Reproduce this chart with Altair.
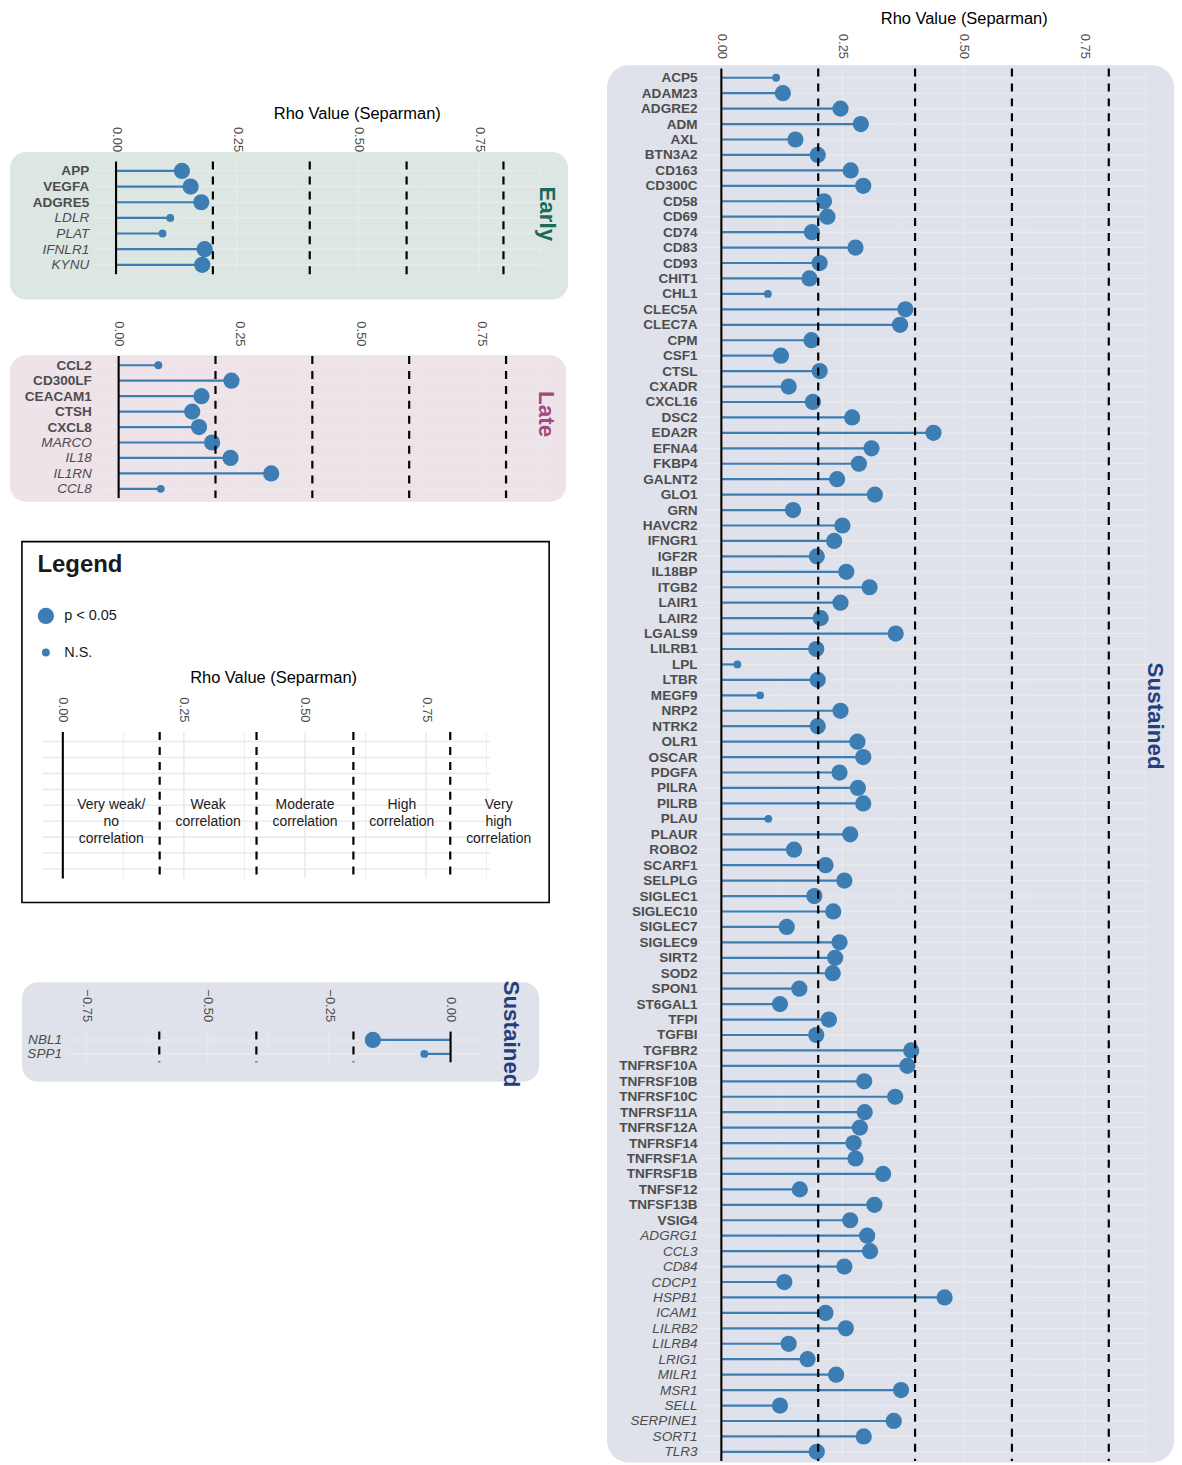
import json
import altair as alt
import pandas as pd

FONT = "Liberation Sans"
DOT = "#3c7db4"
LABEL_GREY = "#4d4d4d"
GRID = "#ebebeb"

# ---------------- data ----------------
early_genes = ["APP", "VEGFA", "ADGRE5", "LDLR", "PLAT", "IFNLR1", "KYNU"]
early_rho = [0.136, 0.154, 0.176, 0.112, 0.096, 0.183, 0.178]
early_sig = [1, 1, 1, 0, 0, 1, 1]
early_bold = [1, 1, 1, 0, 0, 0, 0]

late_genes = ["CCL2", "CD300LF", "CEACAM1", "CTSH", "CXCL8", "MARCO", "IL18", "IL1RN", "CCL8"]
late_rho = [0.082, 0.233, 0.171, 0.152, 0.166, 0.193, 0.231, 0.315, 0.087]
late_sig = [0, 1, 1, 1, 1, 1, 1, 1, 0]
late_bold = [1, 1, 1, 1, 1, 0, 0, 0, 0]

neg_genes = ["NBL1", "SPP1"]
neg_rho = [-0.160, -0.054]
neg_sig = [1, 0]
neg_bold = [0, 0]

main_genes = [
    "ACP5", "ADAM23", "ADGRE2", "ADM", "AXL", "BTN3A2", "CD163", "CD300C", "CD58", "CD69",
    "CD74", "CD83", "CD93", "CHIT1", "CHL1", "CLEC5A", "CLEC7A", "CPM", "CSF1", "CTSL",
    "CXADR", "CXCL16", "DSC2", "EDA2R", "EFNA4", "FKBP4", "GALNT2", "GLO1", "GRN", "HAVCR2",
    "IFNGR1", "IGF2R", "IL18BP", "ITGB2", "LAIR1", "LAIR2", "LGALS9", "LILRB1", "LPL", "LTBR",
    "MEGF9", "NRP2", "NTRK2", "OLR1", "OSCAR", "PDGFA", "PILRA", "PILRB", "PLAU", "PLAUR",
    "ROBO2", "SCARF1", "SELPLG", "SIGLEC1", "SIGLEC10", "SIGLEC7", "SIGLEC9", "SIRT2", "SOD2", "SPON1",
    "ST6GAL1", "TFPI", "TGFBI", "TGFBR2", "TNFRSF10A", "TNFRSF10B", "TNFRSF10C", "TNFRSF11A", "TNFRSF12A", "TNFRSF14",
    "TNFRSF1A", "TNFRSF1B", "TNFSF12", "TNFSF13B", "VSIG4", "ADGRG1", "CCL3", "CD84", "CDCP1", "HSPB1",
    "ICAM1", "LILRB2", "LILRB4", "LRIG1", "MILR1", "MSR1", "SELL", "SERPINE1", "SORT1", "TLR3",
]
main_rho = [
    0.113, 0.127, 0.246, 0.288, 0.153, 0.199, 0.267, 0.293, 0.212, 0.219,
    0.187, 0.277, 0.203, 0.182, 0.096, 0.380, 0.369, 0.186, 0.123, 0.203,
    0.139, 0.189, 0.270, 0.438, 0.310, 0.284, 0.239, 0.317, 0.148, 0.250,
    0.233, 0.197, 0.258, 0.306, 0.246, 0.205, 0.360, 0.196, 0.033, 0.199,
    0.080, 0.246, 0.199, 0.281, 0.293, 0.244, 0.282, 0.293, 0.097, 0.266,
    0.150, 0.215, 0.254, 0.192, 0.231, 0.135, 0.244, 0.235, 0.230, 0.161,
    0.121, 0.222, 0.196, 0.392, 0.384, 0.295, 0.359, 0.296, 0.286, 0.273,
    0.277, 0.334, 0.162, 0.316, 0.266, 0.301, 0.307, 0.254, 0.130, 0.461,
    0.215, 0.257, 0.139, 0.178, 0.237, 0.371, 0.121, 0.356, 0.294, 0.197,
]
main_ns = ["ACP5", "CHL1", "LPL", "MEGF9", "PLAU"]
main_sig = [0 if g in main_ns else 1 for g in main_genes]
main_bold = [1] * 75 + [0] * 15

pos_ticks = [0.0, 0.25, 0.5, 0.75]
pos_minor = [0.125, 0.375, 0.625, 0.875]
pos_thresholds = [0.2, 0.4, 0.6, 0.8]
neg_ticks = [-0.75, -0.5, -0.25, 0.0]
neg_minor = [-0.625, -0.375, -0.125]
neg_thresholds = [-0.2, -0.4, -0.6]

legend_rows = ["r1", "r2", "r3", "r4", "r5", "r6", "r7", "r8", "r9"]
region_pos = [0.1, 0.3, 0.5, 0.7, 0.9]
region_labels = ["Very weak/\nno\ncorrelation", "Weak\ncorrelation", "Moderate\ncorrelation",
                 "High\ncorrelation", "Very\nhigh\ncorrelation"]

SIG_DOMAIN = ["p < 0.05", "N.S."]
AXIS_TITLE = "Rho Value (Separman)"
POS_DOMAIN = [-0.042, 0.882]
NEG_DOMAIN = [-0.789, 0.069]

# ---------------- layout (pixels inside the single view) ----------------
# plot rectangles: (left, right, top, bottom)
EARLY_RECT = (88, 537, 150.6, 263.6)
LATE_RECT = (90.6, 539.6, 345.7, 488.3)
LEG_RECT = (34.6, 483.6, 723, 870)
NEG_RECT = (59.7, 477.7, 1023.6, 1054.4)
MAIN_RECT = (695.4, 1144.4, 57.2, 1454.6)

size_scale = alt.Scale(domain=SIG_DOMAIN, range=[265, 62])
size_legend = alt.Legend(
    orient="none", legendX=29.5, legendY=543, padding=0,
    title="Legend", titleFontSize=24, titleFontWeight="bold", titleColor="#1a1a1a",
    titleFont=FONT, titlePadding=31,
    labelFont=FONT, labelFontSize=14.5, labelColor="#1a1a1a", labelOffset=10,
    rowPadding=20, symbolType="circle", symbolFillColor=DOT, symbolOpacity=1,
    symbolStrokeWidth=0,
)


def one_row(**kw):
    return pd.DataFrame({k: [v] for k, v in kw.items()})


def rect_layer(x1, x2, y1, y2, **mark):
    return alt.Chart(one_row(k=0)).mark_rect(**mark).encode(
        x=alt.value(x1), x2=alt.value(x2), y=alt.value(y1), y2=alt.value(y2))


def strip_layer(text, sx, sy, color):
    return alt.Chart(one_row(label=text)).mark_text(
        angle=90, fontSize=22.5, fontWeight="bold", color=color, font=FONT,
        align="center", baseline="middle").encode(
        x=alt.value(sx), y=alt.value(sy), text="label:N")


def make_xaxis(rect, ticks, title_xy=None):
    x0, x1, y0, y1 = rect
    kw = dict(orient="top", offset=-y0, values=ticks, format=".2f", labelAngle=90,
              labelAlign="right", labelBaseline="middle", labelPadding=10, labelFontSize=13,
              labelColor=LABEL_GREY, labelFont=FONT, ticks=False, tickSize=0, domain=False,
              grid=False, zindex=1)
    if title_xy:
        kw.update(title=AXIS_TITLE, titleFontSize=16.5, titleFont=FONT, titleColor="black",
                  titleFontWeight="normal", titleX=title_xy[0], titleY=title_xy[1] - y0,
                  titleAlign="center", titleBaseline="middle", titleAngle=0)
    else:
        kw.update(title="")
    return alt.Axis(**kw)


def vrules(values, X, rect, **mark):
    return alt.Chart(pd.DataFrame({"v": values})).mark_rule(**mark).encode(
        x=X("v"), y=alt.value(rect[2]), y2=alt.value(rect[3]))


def lollipop_panel(genes, rho, sig, bold, rect, domain, ticks, minor, thresholds,
                   box, box_fill, radius, strip, label_pad, title_xy=None):
    x0, x1, y0, y1 = rect
    df = pd.DataFrame({
        "gene": genes, "rho": rho,
        "sig": [SIG_DOMAIN[0] if s else SIG_DOMAIN[1] for s in sig],
    })
    bold_genes = [g for g, b in zip(genes, bold) if b]
    test = "indexof(%s, datum.value) >= 0" % json.dumps(bold_genes)
    xscale = alt.Scale(domain=domain, range=[x0, x1], nice=False, zero=False)
    xaxis = make_xaxis(rect, ticks, title_xy)
    yaxis = alt.Axis(
        orient="left", offset=-x0, zindex=1,
        labelFontSize=13.6, labelColor=LABEL_GREY, labelFont=FONT, labelLimit=300,
        labelFontWeight={"condition": {"test": test, "value": "bold"}, "value": "normal"},
        labelFontStyle={"condition": {"test": test, "value": "normal"}, "value": "italic"},
        labelPadding=label_pad, ticks=False, domain=False, grid=False, title="")
    yscale = alt.Scale(type="point", padding=0.6, domain=genes, range=[y0, y1])

    def X(f):
        return alt.X(f"{f}:Q", scale=xscale, axis=xaxis)

    Y = alt.Y("gene:N", scale=yscale, axis=yaxis)

    layers = [
        rect_layer(*box, fill=box_fill, cornerRadius=radius),
        alt.Chart(df).mark_rule(color=GRID, strokeWidth=1.1).encode(
            y=Y, x=alt.datum(domain[0]), x2=alt.datum(domain[1])),
        vrules(minor, X, rect, color=GRID, strokeWidth=0.6),
        vrules(ticks, X, rect, color=GRID, strokeWidth=1.1),
        alt.Chart(df).mark_rule(color=DOT, strokeWidth=2.2).encode(x=X("rho"), x2=alt.datum(0), y=Y),
        alt.Chart(df).mark_circle(color=DOT, opacity=1).encode(
            x=X("rho"), y=Y, size=alt.Size("sig:N", scale=size_scale, legend=size_legend)),
        vrules([0.0], X, rect, color="black", strokeWidth=2.1),
        vrules(thresholds, X, rect, color="black", strokeWidth=2.2, strokeDash=[8, 7]),
        strip_layer(*strip),
    ]
    return alt.layer(*layers)


early = lollipop_panel(
    early_genes, early_rho, early_sig, early_bold, EARLY_RECT, POS_DOMAIN, pos_ticks, pos_minor,
    pos_thresholds, box=(2, 562, 141, 289), box_fill="#dce6e3", radius=16,
    strip=("Early", 541, 203, "#1b6a5a"), label_pad=7, title_xy=(350, 102))

late = lollipop_panel(
    late_genes, late_rho, late_sig, late_bold, LATE_RECT, POS_DOMAIN, pos_ticks, pos_minor,
    pos_thresholds, box=(2, 560, 345, 492), box_fill="#eee3e9", radius=16,
    strip=("Late", 540, 404, "#a2487d"), label_pad=7)

neg = lollipop_panel(
    neg_genes, neg_rho, neg_sig, neg_bold, NEG_RECT, NEG_DOMAIN, neg_ticks, neg_minor,
    neg_thresholds, box=(14, 533, 974, 1074), box_fill="#dfe2ea", radius=16,
    strip=("Sustained", 505, 1026, "#243f7f"), label_pad=6)

main = lollipop_panel(
    main_genes, main_rho, main_sig, main_bold, MAIN_RECT, POS_DOMAIN, pos_ticks, pos_minor,
    pos_thresholds, box=(601, 1170, 54, 1456), box_fill="#dfe2ea", radius=22,
    strip=("Sustained", 1151, 707, "#243f7f"), label_pad=4, title_xy=(959, 7))

# ---------------- explanatory legend panel ----------------
lg_xscale = alt.Scale(domain=POS_DOMAIN, range=[LEG_RECT[0], LEG_RECT[1]], nice=False, zero=False)
lg_xaxis = make_xaxis(LEG_RECT, pos_ticks, (266, 668))
lg_yscale = alt.Scale(type="point", padding=0.6, domain=legend_rows, range=[LEG_RECT[2], LEG_RECT[3]])


def LX(f):
    return alt.X(f"{f}:Q", scale=lg_xscale, axis=lg_xaxis)


LY = alt.Y("row:N", scale=lg_yscale, axis=None)
rows_df = pd.DataFrame({"row": legend_rows})
regions_df = pd.DataFrame({"pos": region_pos, "label": region_labels, "row": ["r5"] * 5})

legend_panel = alt.layer(
    rect_layer(14, 543, 532, 894, fill="white", stroke="black", strokeWidth=1.6),
    alt.Chart(rows_df).mark_rule(color=GRID, strokeWidth=1.6).encode(
        y=LY, x=alt.datum(POS_DOMAIN[0]), x2=alt.datum(POS_DOMAIN[1])),
    vrules(pos_minor, LX, LEG_RECT, color=GRID, strokeWidth=0.9),
    vrules(pos_ticks, LX, LEG_RECT, color=GRID, strokeWidth=1.6),
    vrules([0.0], LX, LEG_RECT, color="black", strokeWidth=2.1),
    vrules(pos_thresholds, LX, LEG_RECT, color="black", strokeWidth=2.2, strokeDash=[8, 7]),
    alt.Chart(regions_df).mark_text(
        lineBreak="\n", lineHeight=17, fontSize=14, color="#1a1a1a", font=FONT,
        align="center", baseline="middle").encode(x=LX("pos"), y=LY, text="label:N"),
)

chart = alt.layer(early, late, legend_panel, neg, main) \
    .resolve_scale(x="independent", y="independent", size="shared") \
    .resolve_axis(x="independent", y="independent") \
    .resolve_legend(size="shared") \
    .properties(width=1166, height=1456, padding=0, background="white") \
    .configure(font=FONT) \
    .configure_view(strokeWidth=0)

chart.save("out.html", embed_options={"renderer": "svg", "actions": False})
